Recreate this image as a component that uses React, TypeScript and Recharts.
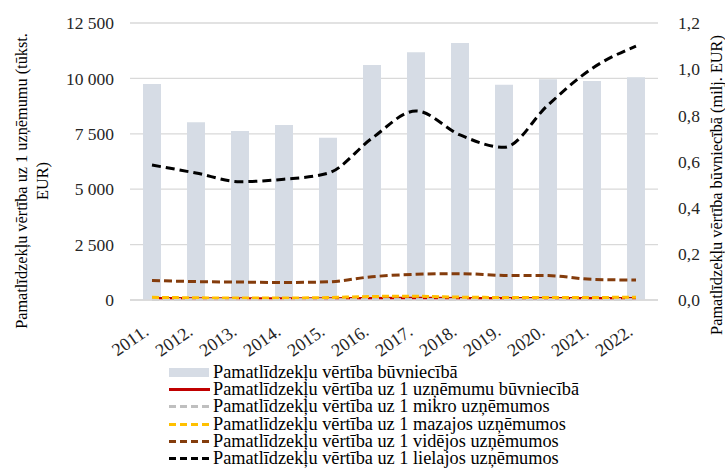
import { ComposedChart, Bar, Line, XAxis, YAxis, CartesianGrid } from 'recharts';

const years = ['2011.', '2012.', '2013.', '2014.', '2015.', '2016.', '2017.', '2018.', '2019.', '2020.', '2021.', '2022.'];
// milj. EUR (right axis)
const totalValue = [0.936, 0.77, 0.732, 0.758, 0.703, 1.018, 1.073, 1.113, 0.932, 0.956, 0.949, 0.965];
// tūkst. EUR per enterprise (left axis)
const perEnterprise = [70, 60, 55, 55, 60, 70, 75, 70, 65, 65, 65, 70];
const micro = [25, 22, 20, 20, 22, 25, 28, 25, 22, 22, 22, 25];
const small = [120, 100, 90, 90, 110, 160, 170, 130, 115, 110, 115, 125];
const medium = [880, 830, 810, 790, 820, 1050, 1160, 1190, 1110, 1100, 930, 900];
const large = [6090, 5730, 5340, 5450, 5720, 7300, 8530, 7450, 6890, 8800, 10450, 11460];

const leftTicks = [0, 2500, 5000, 7500, 10000, 12500];
const rightTicks = [0, 0.2, 0.4, 0.6, 0.8, 1.0, 1.2];

const font = '"Liberation Serif", "Times New Roman", serif';
const textColor = '#262626';

const data = years.map((year, i) => ({
  year,
  total: totalValue[i],
  perEnterprise: perEnterprise[i],
  micro: micro[i],
  small: small[i],
  medium: medium[i],
  large: large[i],
}));

const legendItems = [
  { name: 'Pamatlīdzekļu vērtība būvniecībā', color: '#d6dce5', kind: 'bar' },
  { name: 'Pamatlīdzekļu vērtība uz 1 uzņēmumu būvniecībā', color: '#c00000', kind: 'solid' },
  { name: 'Pamatlīdzekļu vērtība uz 1 mikro uzņēmumos', color: '#bfbfbf', kind: 'dash' },
  { name: 'Pamatlīdzekļu vērtība uz 1 mazajos uzņēmumos', color: '#ffc000', kind: 'dash' },
  { name: 'Pamatlīdzekļu vērtība uz 1 vidējos uzņēmumos', color: '#843c0c', kind: 'dash' },
  { name: 'Pamatlīdzekļu vērtība uz 1 lielajos uzņēmumos', color: '#000000', kind: 'dash' },
];

const fmtLeft = (v: number) => v.toLocaleString('en-US').replace(/,/g, ' ');
const fmtRight = (v: number) => v.toFixed(1).replace('.', ',');

function YearTick({ x, y, payload }: any) {
  const tx = x - 2;
  const ty = y + 26;
  return (
    <text
      x={tx}
      y={ty}
      transform={`rotate(-35, ${tx}, ${ty})`}
      textAnchor="end"
      fontFamily={font}
      fontSize={18}
      fill={textColor}
    >
      {payload.value}
    </text>
  );
}

function Legend() {
  return (
    <div style={{ position: 'absolute', left: 0, top: 364, fontFamily: font, fontSize: 18.3, color: '#000' }}>
      {legendItems.map((item, i) => (
        <div
          key={item.name}
          style={{
            position: 'absolute',
            top: i * 17.2,
            left: 169,
            display: 'flex',
            alignItems: 'center',
            height: 17,
            whiteSpace: 'nowrap',
          }}
        >
          <svg width={41} height={17} style={{ marginRight: 3, display: 'block' }}>
            {item.kind === 'bar' ? (
              <rect x={0} y={4} width={40} height={9} fill={item.color} />
            ) : (
              <line
                x1={0}
                y1={8.5}
                x2={41}
                y2={8.5}
                stroke={item.color}
                strokeWidth={3}
                strokeDasharray={item.kind === 'dash' ? '7 4' : undefined}
              />
            )}
          </svg>
          <div style={{ display: 'block', height: 17, lineHeight: '17px', overflow: 'visible' }}>{item.name}</div>
        </div>
      ))}
    </div>
  );
}

function LeftTitle() {
  const cy = 181;
  return (
    <text transform={`rotate(-90, 0, ${cy})`} fontFamily={font} fontSize={16.3} fill="#000" textAnchor="middle">
      <tspan x={0} y={cy + 27}>Pamatlīdzekļu vērtība uz 1 uzņēmumu (tūkst.</tspan>
      <tspan x={0} y={cy + 48}>EUR)</tspan>
    </text>
  );
}

function RightTitle() {
  const cy = 185;
  return (
    <text transform={`rotate(-90, 0, ${cy})`} fontFamily={font} fontSize={16.3} fill="#000" textAnchor="middle">
      <tspan x={0} y={cy + 722}>Pamatlīdzekļu vērtība būvniecībā (milj. EUR)</tspan>
    </text>
  );
}

export default function App() {
  return (
    <div style={{ position: 'absolute', left: 0, top: 0, width: 725, height: 476, background: '#fff' }}>
      <ComposedChart
        width={725}
        height={476}
        data={data}
        margin={{ top: 23, right: 0, left: 0, bottom: 116 }}
        barCategoryGap={0}
      >
        <CartesianGrid yAxisId="left" vertical={false} stroke="#d9d9d9" strokeWidth={1.3} />
        <XAxis
          dataKey="year"
          tick={<YearTick />}
          tickLine={false}
          axisLine={{ stroke: '#d9d9d9', strokeWidth: 1.3 }}
          interval={0}
          height={60}
        />
        <YAxis
          yAxisId="left"
          orientation="left"
          width={130}
          domain={[0, 12500]}
          ticks={leftTicks}
          tickFormatter={fmtLeft}
          tickLine={false}
          axisLine={false}
          tickMargin={10}
          tick={{ fontFamily: font, fontSize: 17.5, fill: textColor }}
          label={<LeftTitle />}
        />
        <YAxis
          yAxisId="right"
          orientation="right"
          width={67}
          domain={[0, 1.2]}
          ticks={rightTicks}
          tickFormatter={fmtRight}
          tickLine={false}
          axisLine={false}
          tickMargin={14}
          tick={{ fontFamily: font, fontSize: 17.5, fill: textColor, textAnchor: 'start' }}
          label={<RightTitle />}
        />
        <Bar yAxisId="right" dataKey="total" fill="#d6dce5" barSize={18} isAnimationActive={false} />
        <Line yAxisId="left" type="monotone" dataKey="perEnterprise" stroke="#c00000" strokeWidth={3} dot={false} isAnimationActive={false} />
        <Line yAxisId="left" type="monotone" dataKey="micro" stroke="#bfbfbf" strokeWidth={3} strokeDasharray="7 4" dot={false} isAnimationActive={false} />
        <Line yAxisId="left" type="monotone" dataKey="small" stroke="#ffc000" strokeWidth={3} strokeDasharray="7 3" dot={false} isAnimationActive={false} />
        <Line yAxisId="left" type="monotone" dataKey="medium" stroke="#843c0c" strokeWidth={3} strokeDasharray="8 4" dot={false} isAnimationActive={false} />
        <Line yAxisId="left" type="monotone" dataKey="large" stroke="#000000" strokeWidth={3} strokeDasharray="9 5" dot={false} isAnimationActive={false} />
      </ComposedChart>
      <Legend />
    </div>
  );
}
